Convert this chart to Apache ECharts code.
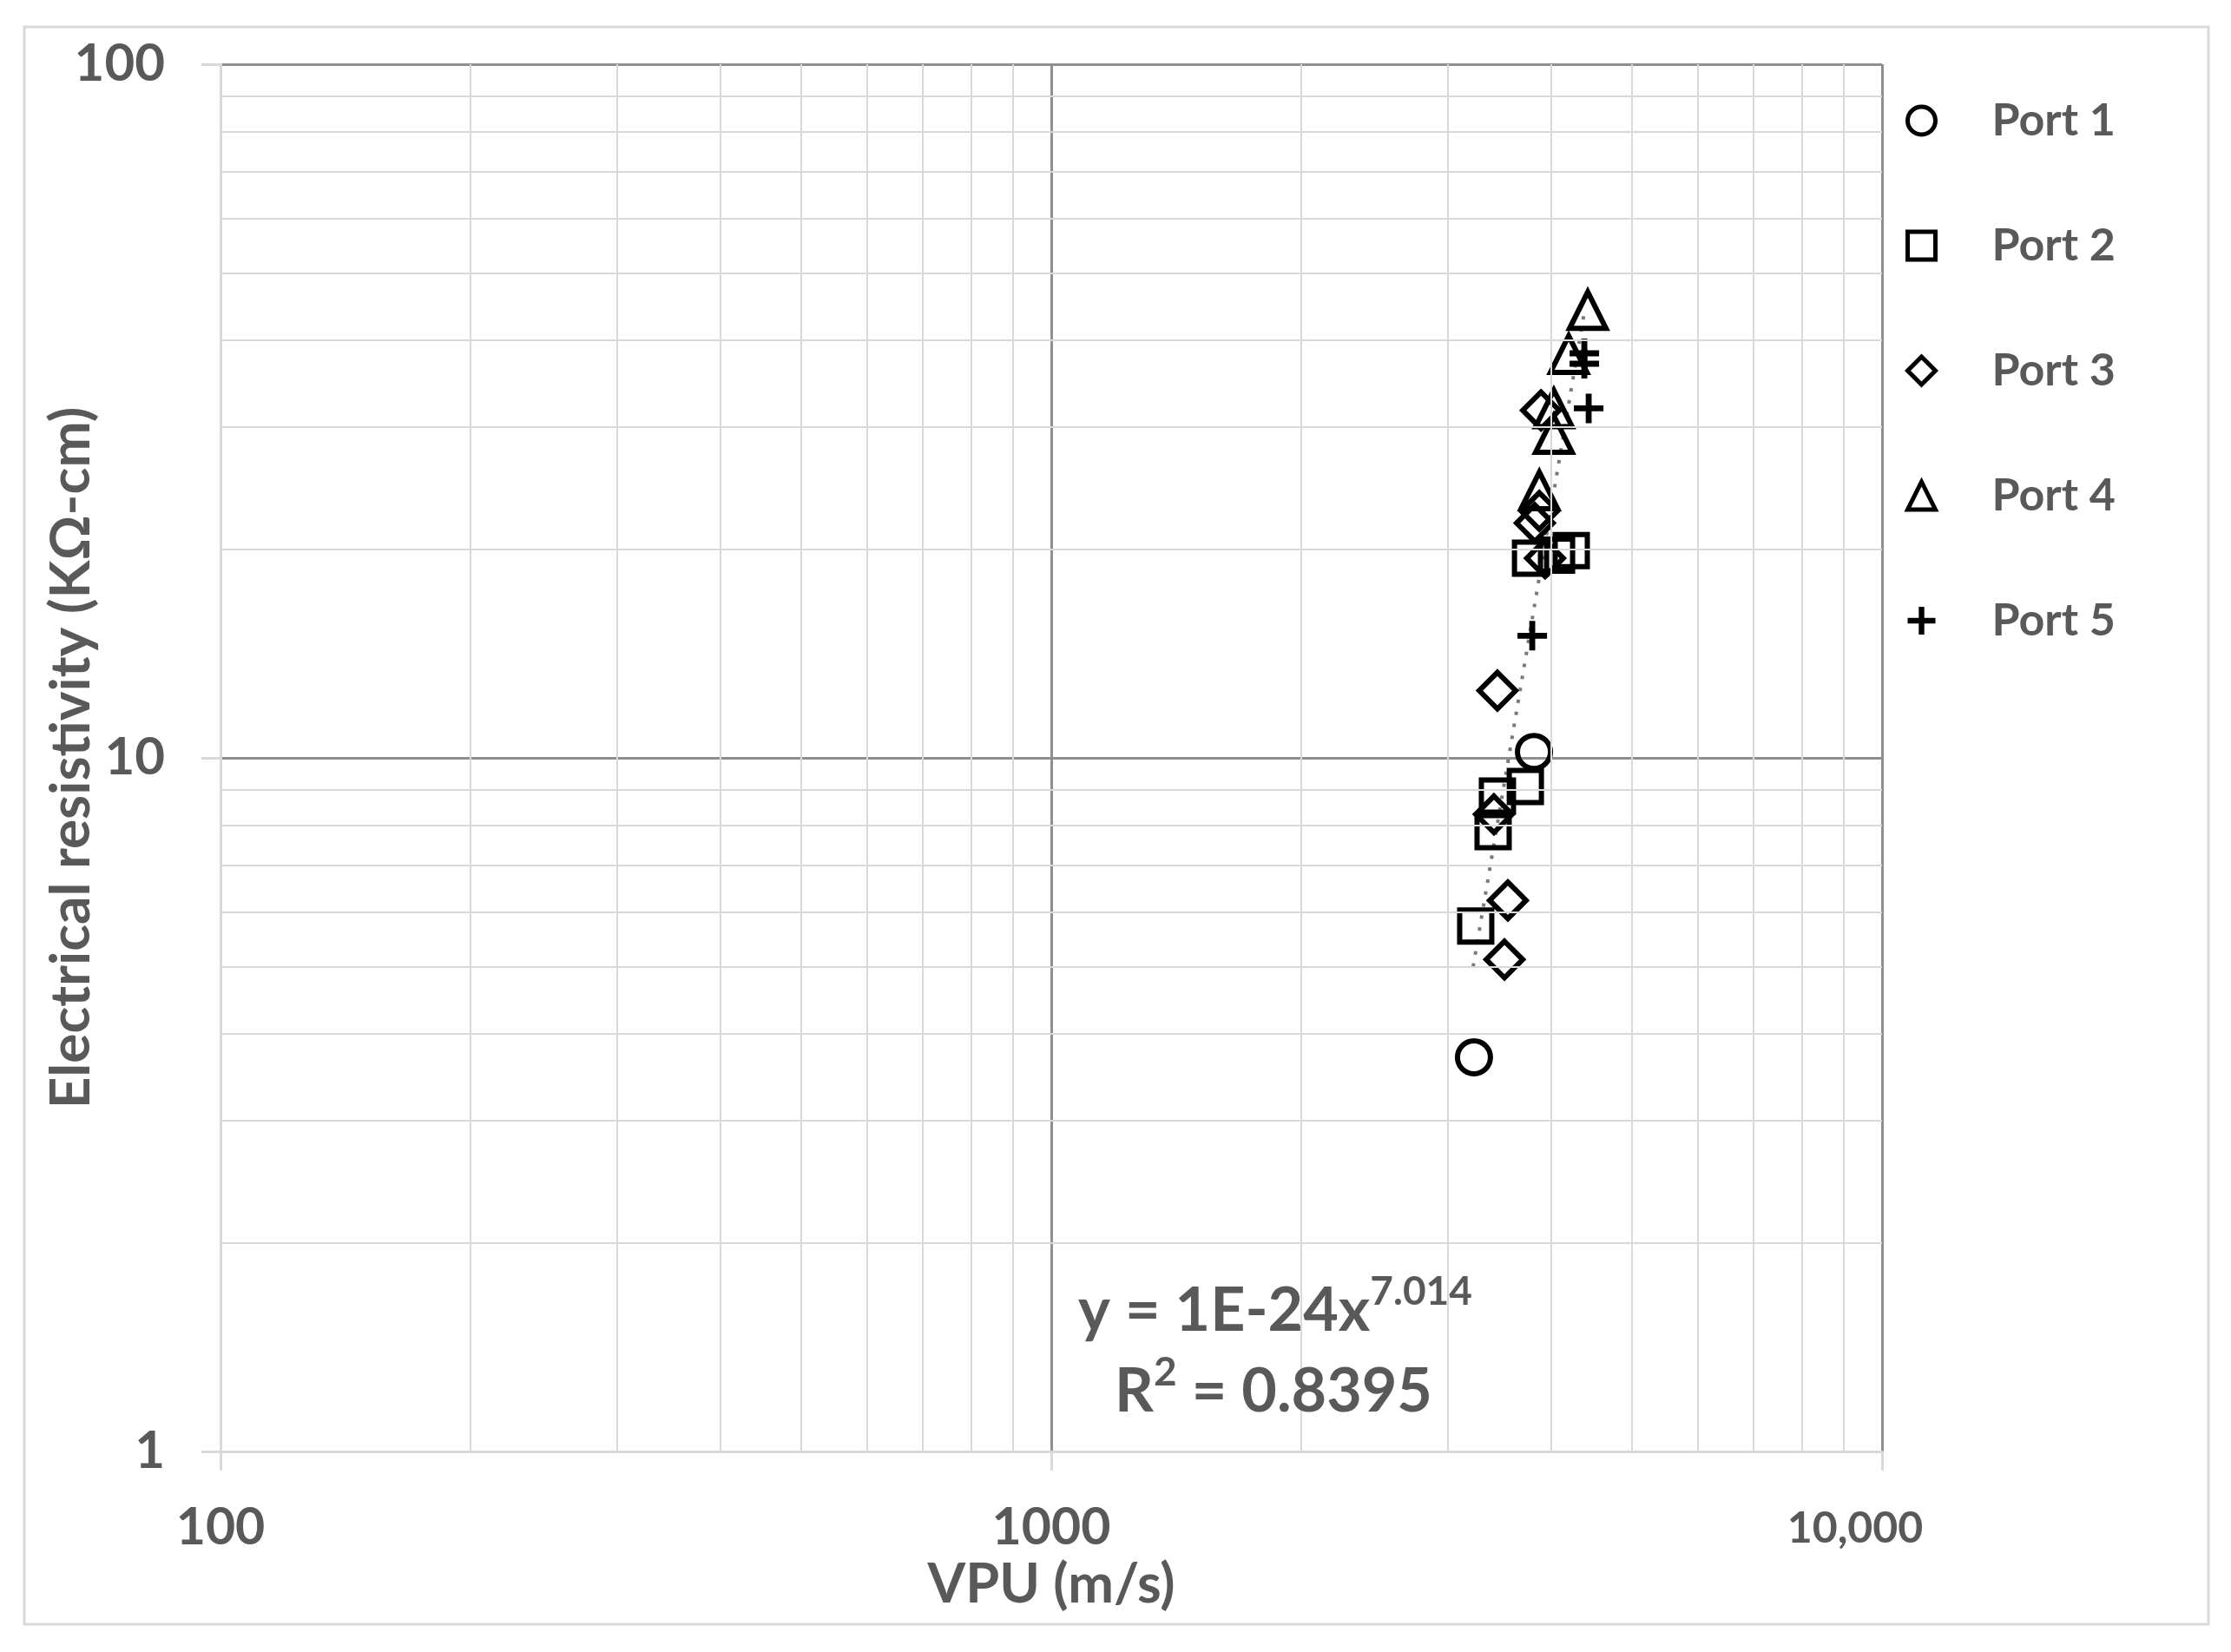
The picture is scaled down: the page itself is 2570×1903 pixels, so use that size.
<!DOCTYPE html>
<html>
<head>
<meta charset="utf-8">
<script src="https://cdn.jsdelivr.net/npm/echarts@6/dist/echarts.min.js"></script>
<style>
html,body{margin:0;padding:0;background:#fff;}
#chart{width:2570px;height:1903px;}
</style>
</head>
<body>
<div id="chart"></div>
<script>
// readings: [VPU m/s, resistivity kOhm-cm]
var port1 = [[3811, 10.2], [3227, 3.70]];
var port2 = [[3775, 19.4], [4226, 19.9], [4057, 19.6], [3721, 9.09], [3444, 8.81], [3403, 7.83], [3243, 5.72]];
var port3 = [[3886, 31.7], [3868, 22.7], [3820, 21.8], [3930, 19.4], [3444, 12.5], [3411, 8.29], [3545, 6.23], [3512, 5.12]];
var port4 = [[4424, 44.2], [4196, 38.2], [4027, 31.9], [4027, 29.3], [3868, 24.3]];
var port5 = [[4382, 38.3], [4382, 37.0], [4435, 31.9], [3793, 15.0]];
// power trendline ends
var trend = [[3220, 5.0], [4390, 44.5]];

// minor grid values
var xMinor = [200, 300, 400, 500, 600, 700, 800, 900, 2000, 3000, 4000, 5000, 6000, 7000, 8000, 9000];
var yMinor = [2, 3, 4, 5, 6, 7, 8, 9, 20, 30, 40, 50, 60, 70, 80, 90];
var xTickText = {100: '100', 1000: '1000', 10000: '{n|10,000}'};

var txtColor = '#595959';
var font = 'Lato';
var hollow = {color: 'rgba(0,0,0,0)', borderColor: '#000', borderWidth: 6, opacity: 1};
var plusPath = 'path://M4,0H6V4H10V6H6V10H4V6H0V4H4Z';

var chart = echarts.init(document.getElementById('chart'));

var gridLines = [];
xMinor.forEach(function (v) { gridLines.push({xAxis: v}); });
yMinor.forEach(function (v) { gridLines.push({yAxis: v}); });

option = {
    backgroundColor: '#fff',
    animation: false,
    grid: {left: 254, top: 74, width: 1914, height: 1598},
    legend: {
        orient: 'vertical',
        left: 2190,
        top: 104,
        itemWidth: 32,
        itemHeight: 32,
        itemGap: 84,
        selectedMode: false,
        data: ['Port 1', 'Port 2', 'Port 3', 'Port 4',
            {name: 'Port 5', itemStyle: {borderWidth: 0, color: '#000'}}],
        itemStyle: {borderWidth: 5, borderColor: '#000', opacity: 1},
        textStyle: {
            fontFamily: font, fontWeight: 'bold', fontSize: 52, color: txtColor,
            lineHeight: 60, padding: [0, 0, 0, 60]
        }
    },
    xAxis: {
        type: 'log', logBase: 10, min: 100, max: 10000,
        name: 'VPU (m/s)', nameLocation: 'middle', nameGap: 108,
        nameTextStyle: {fontFamily: font, fontWeight: 'bold', fontSize: 63, color: txtColor},
        axisLine: {show: true, lineStyle: {color: '#d9d9d9', width: 3}},
        axisTick: {show: true, length: 22, lineStyle: {color: '#d9d9d9', width: 3}},
        axisLabel: {
            margin: 58, fontFamily: font, fontWeight: 'bold', fontSize: 59, color: txtColor,
            formatter: function (v) { return xTickText[v] || String(v); },
            rich: {
                n: {fontFamily: font, fontWeight: 'bold', fontSize: 50,
                    color: txtColor, padding: [6, 62, 0, 0]}
            }
        },
        splitLine: {show: true, lineStyle: {color: ['#d9d9d9', '#8f8f8f', '#8f8f8f'], width: 3}}
    },
    yAxis: {
        type: 'log', logBase: 10, min: 1, max: 100,
        name: 'Electrical resistivity (K\u03A9-cm)', nameLocation: 'middle', nameGap: 140,
        nameMoveOverlap: false,
        nameTextStyle: {fontFamily: font, fontWeight: 'bold', fontSize: 64, color: txtColor},
        axisLine: {show: true, lineStyle: {color: '#d9d9d9', width: 3}},
        axisTick: {show: true, length: 22, lineStyle: {color: '#d9d9d9', width: 3}},
        axisLabel: {margin: 64, fontFamily: font, fontWeight: 'bold', fontSize: 60, color: txtColor},
        splitLine: {show: true, lineStyle: {color: ['#d9d9d9', '#8f8f8f', '#8f8f8f'], width: 3}}
    },
    graphic: [
        {
            type: 'rect', z: -1, silent: true,
            shape: {x: 28, y: 31, width: 2516, height: 1840},
            style: {fill: 'none', stroke: '#d9d9d9', lineWidth: 3}
        },
        {
            type: 'text', x: 1469, y: 1505, z: 10,
            style: {
                text: '{a|y = 1E-24x}{s|7.014}',
                align: 'center', verticalAlign: 'middle',
                rich: {
                    a: {fontFamily: font, fontWeight: 'bold', fontSize: 70, lineHeight: 80, fill: txtColor, verticalAlign: 'bottom'},
                    s: {fontFamily: font, fontWeight: 'bold', fontSize: 46, lineHeight: 80, fill: txtColor, verticalAlign: 'top'}
                }
            }
        },
        {
            type: 'text', x: 1467, y: 1598, z: 10,
            style: {
                text: '{a|R}{s|2}{a| = 0.8395}',
                align: 'center', verticalAlign: 'middle',
                rich: {
                    a: {fontFamily: font, fontWeight: 'bold', fontSize: 70, lineHeight: 80, fill: txtColor, verticalAlign: 'bottom'},
                    s: {fontFamily: font, fontWeight: 'bold', fontSize: 46, lineHeight: 80, fill: txtColor, verticalAlign: 'top'}
                }
            }
        }
    ],
    series: [
        {
            name: 'grid', type: 'line', data: [], z: 1, silent: true,
            markLine: {
                silent: true, symbol: 'none', animation: false,
                label: {show: false},
                lineStyle: {color: '#d9d9d9', width: 2, type: 'solid'},
                emphasis: {disabled: true},
                data: gridLines
            }
        },
        {
            name: 'trend', type: 'line', data: trend, z: 2, silent: true,
            showSymbol: false, symbol: 'none',
            lineStyle: {color: '#7a7a7a', width: 4, type: [4, 10]}
        },
        {name: 'Port 1', type: 'scatter', data: port1, z: 3, symbol: 'circle', symbolSize: 38, itemStyle: hollow},
        {name: 'Port 2', type: 'scatter', data: port2, z: 3, symbol: 'rect', symbolSize: 37, itemStyle: hollow},
        {name: 'Port 3', type: 'scatter', data: port3, z: 3, symbol: 'diamond', symbolSize: 42, itemStyle: hollow},
        {name: 'Port 4', type: 'scatter', data: port4, z: 3, symbol: 'triangle', symbolSize: 42, itemStyle: hollow},
        {name: 'Port 5', type: 'scatter', data: port5, z: 3, symbol: plusPath, symbolSize: 34,
            itemStyle: {color: '#000', borderWidth: 0, opacity: 1}}
    ]
};

chart.setOption(option);
</script>
</body>
</html>
